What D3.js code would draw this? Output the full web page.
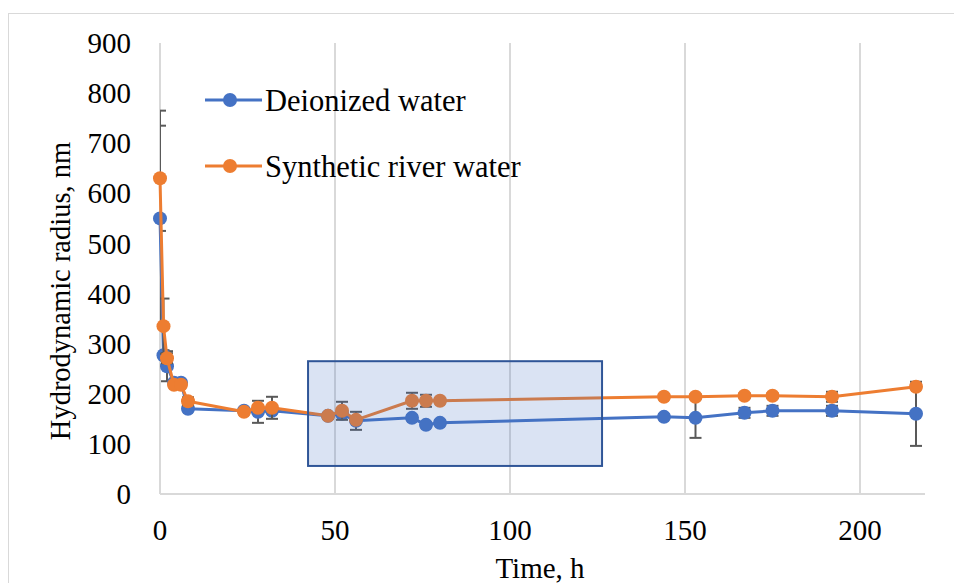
<!DOCTYPE html>
<html>
<head>
    <meta charset="utf-8" />
    <title></title>
    <script src="https://cdn.jsdelivr.net/npm/d3@7"></script>
    <style>
        body { margin: 0; background: #fff; }
        svg text { font-family: "Liberation Serif", "Times New Roman", serif; fill: #000; }
    </style>
</head>
<body>
    <svg id="chart" width="954" height="583"></svg>

    <script>
    var hours = [0, 1, 2, 4, 6, 8, 24, 28, 32, 48, 52, 56, 72, 76, 80, 144, 153, 167, 175, 192, 216];
    var deionized = [550, 277, 255, 222, 222, 170, 166, 164, 166, 156, 160, 146, 152, 138, 142, 154, 152, 162, 166, 166, 160];
    var deionizedErr = [215, 10, 30, 5, 5, 5, 5, 22, 5, 5, 5, 18, 5, 5, 5, 5, 40, 10, 10, 10, 64];
    var river = [630, 335, 271, 218, 218, 185, 164, 172, 172, 156, 166, 148, 186, 186, 186, 194, 194, 196, 196, 194, 214];
    var riverErr = [105, 55, 10, 5, 5, 8, 5, 5, 22, 5, 18, 5, 16, 12, 5, 5, 5, 5, 5, 10, 5];
    var xTicks = [0, 50, 100, 150, 200];
    var yTicks = [0, 100, 200, 300, 400, 500, 600, 700, 800, 900];
    var seriesNames = ["Deionized water", "Synthetic river water"];
    var colors = ["#4472c4", "#ed7d31"];
    // highlighted window, in data units
    var boxX = [42.3, 126.3], boxY = [56, 265];

    var svg = d3.select("#chart");
    var plotLeft = 160, plotRight = 925, plotTop = 43, plotBottom = 494;

    var x = d3.scaleLinear().domain([0, 220]).range([plotLeft, plotLeft + 220 * 3.5]);
    var y = d3.scaleLinear().domain([0, 900]).range([plotBottom, plotTop]);

    // outer chart border
    svg.append("rect")
        .attr("x", 8.5).attr("y", 13.5)
        .attr("width", 1000).attr("height", 700)
        .attr("fill", "none").attr("stroke", "#d9d9d9");

    svg.append("clipPath").attr("id", "plotClip")
      .append("rect")
        .attr("x", plotLeft).attr("y", 0)
        .attr("width", plotRight - plotLeft).attr("height", plotBottom);

    // vertical gridlines
    svg.append("g").selectAll("line")
        .data(xTicks.slice(1))
      .enter().append("line")
        .attr("x1", function (d) { return x(d); })
        .attr("x2", function (d) { return x(d); })
        .attr("y1", plotTop).attr("y2", plotBottom)
        .attr("stroke", "#d9d9d9").attr("stroke-width", 2);

    // axis lines
    svg.append("line")
        .attr("x1", plotLeft).attr("x2", plotLeft).attr("y1", plotTop).attr("y2", plotBottom)
        .attr("stroke", "#d9d9d9").attr("stroke-width", 2);
    svg.append("line")
        .attr("x1", plotLeft).attr("x2", plotRight).attr("y1", plotBottom).attr("y2", plotBottom)
        .attr("stroke", "#d9d9d9").attr("stroke-width", 2);

    // tick labels
    svg.append("g").selectAll("text")
        .data(yTicks)
      .enter().append("text")
        .attr("x", 131)
        .attr("y", function (d) { return y(d); })
        .attr("dy", ".35em")
        .attr("text-anchor", "end")
        .style("font-size", "29px")
        .text(function (d) { return d; });
    svg.append("g").selectAll("text")
        .data(xTicks)
      .enter().append("text")
        .attr("x", function (d) { return x(d); })
        .attr("y", 530)
        .attr("dy", ".35em")
        .attr("text-anchor", "middle")
        .style("font-size", "29px")
        .text(function (d) { return d; });

    svg.append("text")
        .attr("x", 540).attr("y", 578)
        .attr("text-anchor", "middle")
        .style("font-size", "29px")
        .text("Time, h");
    svg.append("text")
        .attr("transform", "translate(70,291) rotate(-90)")
        .attr("text-anchor", "middle")
        .style("font-size", "28.5px")
        .text("Hydrodynamic radius, nm");

    var series = [
        { vals: deionized, err: deionizedErr },
        { vals: river, err: riverErr }
    ];

    var line = d3.line()
        .x(function (d) { return x(d[0]); })
        .y(function (d) { return y(d[1]); });

    series.forEach(function (s, k) {
        var pts = hours.map(function (h, i) { return [h, s.vals[i], s.err[i]]; });
        var eb = svg.append("g").attr("clip-path", "url(#plotClip)")
            .attr("stroke", "#595959").attr("stroke-width", 2);
        eb.selectAll("line.v").data(pts).enter().append("line")
            .attr("class", "v")
            .attr("x1", function (d) { return x(d[0]); })
            .attr("x2", function (d) { return x(d[0]); })
            .attr("y1", function (d) { return y(d[1] + d[2]); })
            .attr("y2", function (d) { return y(d[1] - d[2]); });
        [1, -1].forEach(function (sg, j) {
            eb.selectAll("line.c" + j).data(pts).enter().append("line")
                .attr("class", "c" + j)
                .attr("x1", function (d) { return x(d[0]) - 6; })
                .attr("x2", function (d) { return x(d[0]) + 6; })
                .attr("y1", function (d) { return y(d[1] + sg * d[2]); })
                .attr("y2", function (d) { return y(d[1] + sg * d[2]); });
        });
        svg.append("path")
            .datum(pts)
            .attr("d", line)
            .attr("fill", "none")
            .attr("stroke", colors[k])
            .attr("stroke-width", 3)
            .attr("stroke-linejoin", "round");
        svg.append("g").selectAll("circle")
            .data(pts)
          .enter().append("circle")
            .attr("cx", function (d) { return x(d[0]); })
            .attr("cy", function (d) { return y(d[1]); })
            .attr("r", 7)
            .attr("fill", colors[k]);
    });

    // highlighted window overlay
    svg.append("rect")
        .attr("x", x(boxX[0])).attr("y", y(boxY[1]))
        .attr("width", x(boxX[1]) - x(boxX[0]))
        .attr("height", y(boxY[0]) - y(boxY[1]))
        .attr("fill", "#4472c4").attr("fill-opacity", 0.2)
        .attr("stroke", "#2f5597").attr("stroke-width", 2);

    // legend
    var legend = svg.append("g").selectAll("g")
        .data(seriesNames)
      .enter().append("g")
        .attr("transform", function (d, i) { return "translate(0," + (100 + i * 66) + ")"; });
    legend.append("line")
        .attr("x1", 205).attr("x2", 262)
        .attr("stroke", function (d, i) { return colors[i]; })
        .attr("stroke-width", 3);
    legend.append("circle")
        .attr("cx", 230).attr("r", 7)
        .attr("fill", function (d, i) { return colors[i]; });
    legend.append("text")
        .attr("x", 265).attr("dy", ".35em")
        .style("font-size", "30.5px")
        .text(function (d) { return d; });
    </script>
</body>
</html>
